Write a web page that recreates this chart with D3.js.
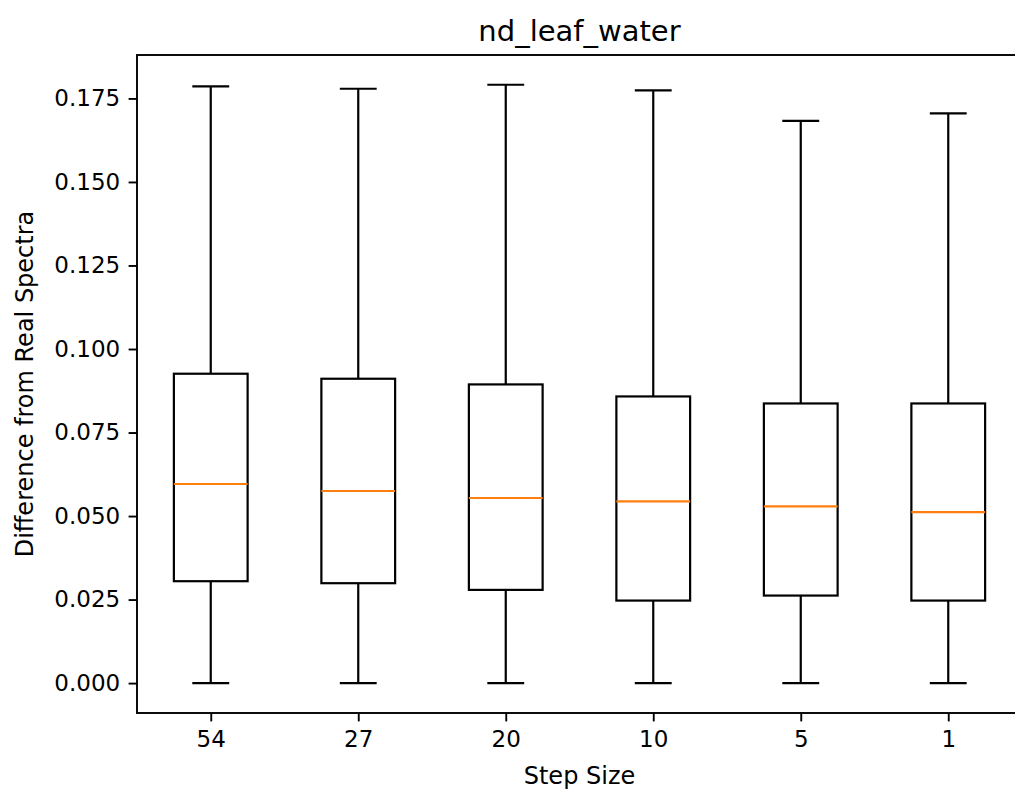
<!DOCTYPE html>
<html>
<head>
<meta charset="utf-8">
<script src="https://cdn.jsdelivr.net/npm/d3@7"></script>
<style>
  body { margin: 0; background: #fff; overflow: hidden; }
  svg { display: block; font-family: "DejaVu Sans", sans-serif; }
</style>
</head>
<body>
<div class="graph"></div>
<script>
  // step sizes on the x axis
  var steps = ['54', '27', '20', '10', '5', '1'];
  // box stats
  var whiskerLow = [0, 0, 0, 0, 0, 0];
  var q1 = [0.0305, 0.0299, 0.0279, 0.0247, 0.0262, 0.0247];
  var medians = [0.0596, 0.0575, 0.0554, 0.0544, 0.0529, 0.0512];
  var q3 = [0.0926, 0.0911, 0.0894, 0.0858, 0.0837, 0.0837];
  var whiskerHigh = [0.1786, 0.1779, 0.1791, 0.1774, 0.1683, 0.1705];
  var yTicks = [0, 0.025, 0.05, 0.075, 0.1, 0.125, 0.15, 0.175];

  var boxes = steps.map(function(s, i) {
    return {step: s, lo: whiskerLow[i], q1: q1[i], med: medians[i], q3: q3[i], hi: whiskerHigh[i]};
  });

  var W = 1015, H = 792;
  // the axes run past the right edge of the picture (it was cropped)
  var margin = {top: 55, left: 137},
      width = 885,
      height = 658;

  var x = d3.scaleLinear().domain([0.5, 6.5]).range([0, width]);
  var y = d3.scaleLinear().domain([-0.00895, 0.188]).range([height, 0]);
  var unit = x(1) - x(0);

  var svg = d3.select(".graph").append("svg")
      .attr("width", W)
      .attr("height", H);

  var g = svg.append("g")
      .attr("transform", "translate(" + margin.left + "," + margin.top + ")");

  var box = g.selectAll(".box")
    .data(boxes)
    .enter().append("g")
      .attr("class", "box")
      .attr("transform", function(d, i) { return "translate(" + x(i + 1) + ",0)"; });

  // whiskers
  box.append("line")
      .attr("x1", 0).attr("x2", 0)
      .attr("y1", function(d) { return y(d.q3); })
      .attr("y2", function(d) { return y(d.hi); });
  box.append("line")
      .attr("x1", 0).attr("x2", 0)
      .attr("y1", function(d) { return y(d.q1); })
      .attr("y2", function(d) { return y(d.lo); });
  // caps
  box.append("line")
      .attr("x1", -unit * 0.125).attr("x2", unit * 0.125)
      .attr("y1", function(d) { return y(d.hi); })
      .attr("y2", function(d) { return y(d.hi); });
  box.append("line")
      .attr("x1", -unit * 0.125).attr("x2", unit * 0.125)
      .attr("y1", function(d) { return y(d.lo); })
      .attr("y2", function(d) { return y(d.lo); });
  box.selectAll("line")
      .attr("stroke", "#000")
      .attr("stroke-width", 2.2);

  box.append("rect")
      .attr("x", -unit * 0.25)
      .attr("width", unit * 0.5)
      .attr("y", function(d) { return y(d.q3); })
      .attr("height", function(d) { return y(d.q1) - y(d.q3); })
      .attr("fill", "none")
      .attr("stroke", "#000")
      .attr("stroke-width", 2.2);

  box.append("line")
      .attr("x1", -unit * 0.25).attr("x2", unit * 0.25)
      .attr("y1", function(d) { return y(d.med); })
      .attr("y2", function(d) { return y(d.med); })
      .attr("stroke", "#ff7f0e")
      .attr("stroke-width", 2.2);

  // axes
  var xAxis = d3.axisBottom(x)
      .tickValues(d3.range(1, 7))
      .tickFormat(function(d) { return steps[d - 1]; })
      .tickSize(8.4).tickPadding(8.4).tickSizeOuter(0);
  var yAxis = d3.axisLeft(y)
      .tickValues(yTicks)
      .tickFormat(d3.format(".3f"))
      .tickSize(8.4).tickPadding(8.4).tickSizeOuter(0);

  var gx = g.append("g")
      .attr("transform", "translate(0," + height + ")")
      .call(xAxis);
  var gy = g.append("g").call(yAxis);

  [gx, gy].forEach(function(a) {
    a.select(".domain").remove();
    a.selectAll("line").attr("stroke", "#000").attr("stroke-width", 1.9);
    a.selectAll("text")
      .attr("fill", "#000")
      .style("font-family", "DejaVu Sans")
      .style("font-size", "23px");
  });
  gx.selectAll("text").attr("dy", "0.76em");

  // frame
  g.append("rect")
      .attr("width", width)
      .attr("height", height)
      .attr("fill", "none")
      .attr("stroke", "#000")
      .attr("stroke-width", 1.9);

  svg.append("text")
      .attr("x", margin.left + width / 2)
      .attr("y", 41)
      .attr("text-anchor", "middle")
      .style("font-size", "29px")
      .text("nd_leaf_water");

  svg.append("text")
      .attr("x", margin.left + width / 2)
      .attr("y", 784)
      .attr("text-anchor", "middle")
      .style("font-size", "24px")
      .text("Step Size");

  svg.append("text")
      .attr("transform", "translate(33," + (margin.top + height / 2) + ") rotate(-90)")
      .attr("text-anchor", "middle")
      .style("font-size", "24px")
      .text("Difference from Real Spectra");
</script>
</body>
</html>
